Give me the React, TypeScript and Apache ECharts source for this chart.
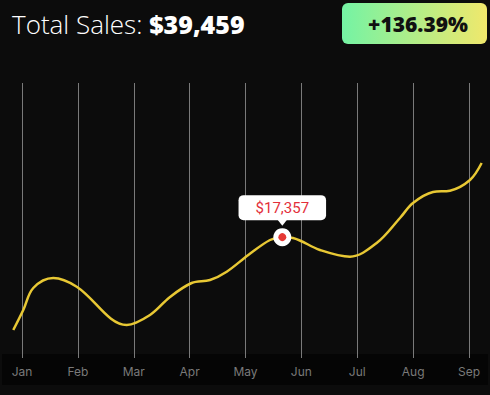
import React, { useEffect, useRef } from "react";
import * as echarts from "echarts";

const months = ["Jan", "Feb", "Mar", "Apr", "May", "Jun", "Jul", "Aug", "Sep"];
// positions in month units (0 = Jan, 8 = Sep)
const salesX = [-0.156, 0.023, 0.202, 0.56, 0.979, 1.874, 2.291, 2.649, 3.037, 3.365, 3.664, 4.05, 4.439, 4.659, 4.85, 5.333, 5.87, 6.348, 6.765, 6.998, 7.356, 7.66, 8.018, 8.227];
const salesY = [4022, 6895, 10055, 11491, 10242, 4740, 6177, 8762, 10773, 11204, 12396, 14795, 16950, 17357, 17237, 15513, 14551, 16519, 20110, 22264, 23844, 24031, 25568, 28010];
const highlight = [4.659, 17357];
const totalSales = 39459;
const growthPct = 136.39;

export default function App() {
  const ref = useRef<HTMLDivElement>(null);
  useEffect(() => {
    document.body.style.margin = "0";
    const chart = echarts.init(ref.current!, null, { renderer: "svg" });
    const fmt = (n: number) => "$" + n.toLocaleString("en-US");
    chart.setOption({
      animation: false,
      backgroundColor: "#0c0c0c",
      title: {
        left: 12,
        top: 11,
        padding: 0,
        text: "{a|Total Sales: }{b|" + fmt(totalSales) + "}",
        textStyle: {
          rich: {
            a: { fontFamily: "Open Sans", fontWeight: 300, fontSize: 26, color: "#ffffff" },
            b: { fontFamily: "Open Sans", fontWeight: 800, fontSize: 25, color: "#ffffff" },
          },
        },
      },
      graphic: [
        {
          type: "rect",
          z: -10,
          silent: true,
          shape: { x: 2, y: 354, width: 486, height: 31 },
          style: { fill: "#050505" },
        },
        {
          type: "rect",
          shape: { x: 342, y: 3, width: 145, height: 41, r: 6 },
          style: {
            fill: new echarts.graphic.LinearGradient(0, 0, 1, 0, [
              { offset: 0, color: "#74f3a4" },
              { offset: 1, color: "#f0e86c" },
            ]),
          },
        },
        {
          type: "text",
          x: 418,
          y: 24,
          style: {
            text: "+" + growthPct.toFixed(2) + "%",
            fill: "#111111",
            fontFamily: "Open Sans",
            fontWeight: 800,
            fontSize: 21,
            align: "center",
            verticalAlign: "middle",
          },
        },
      ],
      grid: [
        { left: 22, right: 21, top: 83, bottom: 37 },
        { left: 13, right: 8, top: 83, bottom: 37 },
      ],
      xAxis: [
        {
          type: "value",
          gridIndex: 0,
          min: 0,
          max: 8,
          interval: 1,
          axisLine: { show: false },
          axisTick: { show: false },
          splitLine: { show: true, lineStyle: { color: "#7a7a7a", width: 1 } },
          axisLabel: {
            margin: 7,
            color: "#7a7a7a",
            fontFamily: "Inter",
            fontSize: 12,
            formatter: (v: number) => months[Math.round(v)] ?? "",
          },
        },
        {
          type: "value",
          gridIndex: 1,
          min: -0.161,
          max: 8.233,
          show: false,
          splitLine: { show: false },
        },
      ],
      yAxis: [
        { type: "value", gridIndex: 0, min: 0, max: 39500, show: false, splitLine: { show: false } },
        { type: "value", gridIndex: 1, min: 0, max: 39500, show: false, splitLine: { show: false } },
      ],
      series: [
        {
          type: "line",
          xAxisIndex: 1,
          yAxisIndex: 1,
          data: salesX.map((x, i) => [x, salesY[i]]),
          smooth: 0.35,
          clip: false,
          showSymbol: false,
          lineStyle: { color: "#e8c834", width: 2.5 },
          z: 3,
        },
        {
          type: "scatter",
          xAxisIndex: 1,
          yAxisIndex: 1,
          data: [highlight],
          symbol: "triangle",
          symbolRotate: 180,
          symbolSize: [11, 7],
          symbolOffset: [0, -15],
          itemStyle: { color: "#ffffff", opacity: 1 },
          z: 4,
        },
        {
          type: "scatter",
          xAxisIndex: 1,
          yAxisIndex: 1,
          data: [highlight],
          symbolSize: 18,
          itemStyle: { color: "#ffffff", opacity: 1 },
          label: {
            show: true,
            position: "top",
            distance: 8,
            formatter: (p: any) => fmt(p.value[1]),
            backgroundColor: "#ffffff",
            borderRadius: 5,
            padding: [5, 17, 5, 17],
            color: "#e3303a",
            fontFamily: "Roboto",
            fontSize: 15,
            lineHeight: 15,
            opacity: 1,
          },
          z: 5,
        },
        {
          type: "scatter",
          xAxisIndex: 1,
          yAxisIndex: 1,
          data: [highlight],
          symbolSize: 8,
          itemStyle: { color: "#e53935", opacity: 1 },
          z: 6,
        },
      ],
    });
    return () => chart.dispose();
  }, []);
  return <div ref={ref} style={{ position: "fixed", left: 0, top: 0, width: 490, height: 395 }} />;
}
